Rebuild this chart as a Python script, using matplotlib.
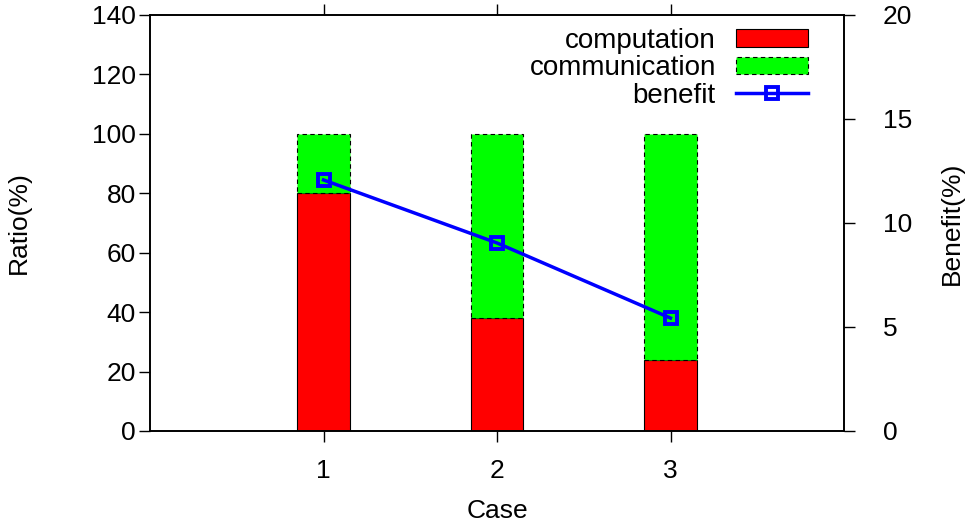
import numpy as np
import matplotlib.pyplot as plt
from matplotlib.lines import Line2D
from matplotlib.patches import Patch

plt.rcParams['font.family'] = ['Liberation Sans', 'DejaVu Sans']
plt.rcParams['font.size'] = 19

cases = [1, 2, 3]
computation = [80, 38, 24]
communication = [20, 62, 76]
benefit = [12.07, 9.04, 5.43]

fig = plt.figure(figsize=(9.71, 5.29), dpi=100)
ax = fig.add_axes([150/971, 1 - 431/529, 694/971, 416/529])
ax2 = ax.twinx()

x = np.array(cases)
ax.bar(x, computation, width=0.3, color='#ff0000', edgecolor='black', linewidth=0.8, zorder=2)
ax.bar(x, communication, width=0.3, bottom=computation, color='#00ff00',
       edgecolor='black', linewidth=0.8, linestyle=(0, (4, 3)), zorder=2)

ax2.plot(x, benefit, color='#0000ff', linewidth=2.5, marker='s', markersize=9,
         markerfacecolor='none', markeredgecolor='#0000ff', markeredgewidth=2.8)

ax.set_xlim(0, 4)
ax.set_ylim(0, 140)
ax2.set_ylim(0, 20)
ax.set_xticks(cases)
ax.set_yticks(range(0, 141, 20))
ax2.set_yticks(range(0, 21, 5))
ax.tick_params(axis='x', direction='out', length=8, width=1, top=True, pad=12)
ax.tick_params(axis='y', direction='out', length=8, width=1, pad=2)
ax2.tick_params(axis='y', direction='out', length=8, width=1, pad=20)
ax.set_xlabel('Case', labelpad=12)
ax.set_ylabel('Ratio(%)', labelpad=44)
ax2.set_ylabel('Benefit(%)', labelpad=20)
for a in (ax, ax2):
    for s in a.spines.values():
        s.set_linewidth(1.2)

handles = [
    Patch(facecolor='#ff0000', edgecolor='black', linewidth=0.8),
    Patch(facecolor='#00ff00', edgecolor='black', linewidth=0.8, linestyle=(0, (4, 3))),
    Line2D([], [], color='#0000ff', linewidth=2.5, marker='s', markersize=9,
           markerfacecolor='none', markeredgewidth=2.8),
]
fig.legend(handles, ['computation', 'communication', 'benefit'], loc='upper right',
           bbox_to_anchor=(808/971, 1 - 28/529), frameon=False, markerfirst=False,
           borderpad=0, borderaxespad=0,
           handlelength=2.6, handleheight=0.6, labelspacing=0.05, handletextpad=0.72,
           fontsize=20)

fig.savefig('out.png', dpi=100)
